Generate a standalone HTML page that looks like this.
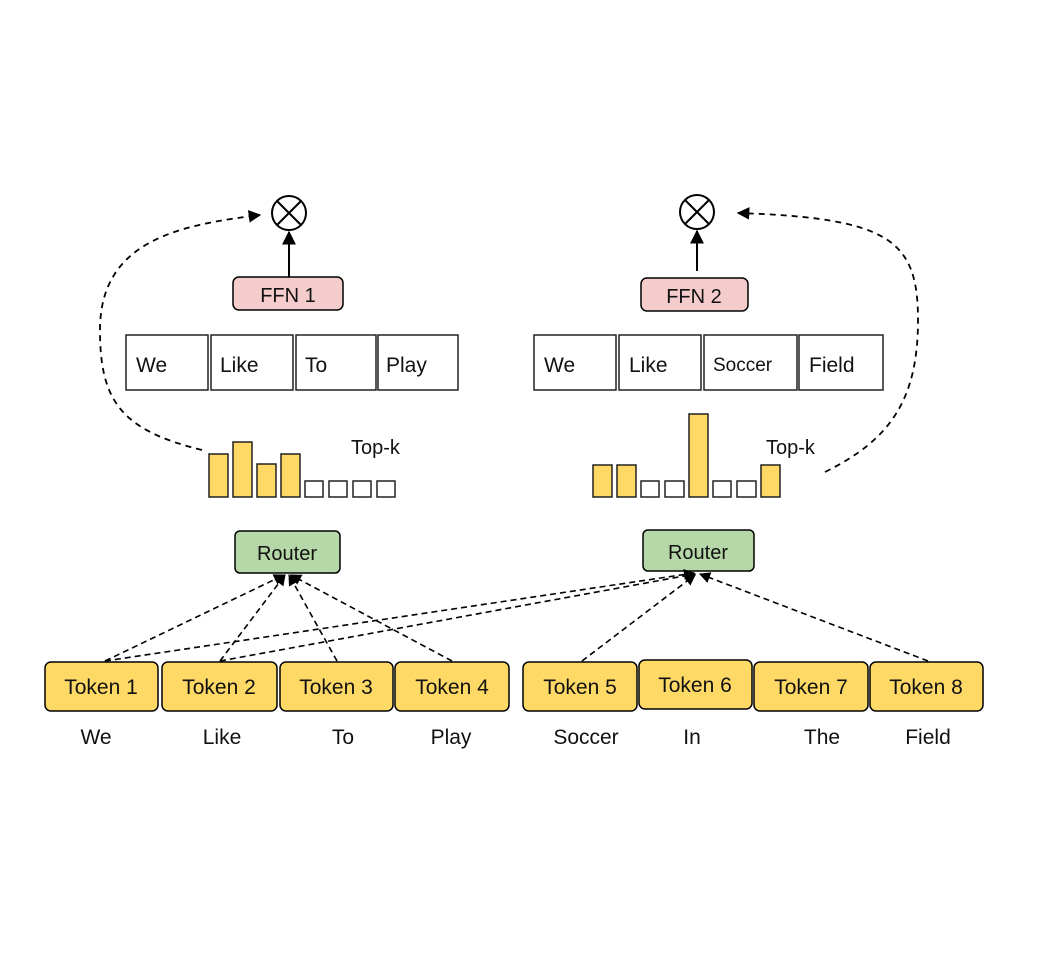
<!DOCTYPE html>
<html><head><meta charset="utf-8"><style>
html,body{margin:0;padding:0;background:#fff}
svg{display:block}
text{font-family:"Liberation Sans",Arial,sans-serif;fill:#111}
</style></head><body>
<svg width="1040" height="960" viewBox="0 0 1040 960" xmlns="http://www.w3.org/2000/svg">
<defs>
<marker id="a" viewBox="0 0 10 10" refX="9" refY="5" markerWidth="7" markerHeight="7" orient="auto-start-reverse"><path d="M0,0 L10,5 L0,10 z" fill="#000"/></marker>
</defs>
<rect width="1040" height="960" fill="#fff"/>

<!-- circles -->
<g stroke="#000" stroke-width="2" fill="#fff">
<circle cx="289" cy="213" r="17"/>
<line x1="277" y1="201" x2="301" y2="225"/><line x1="301" y1="201" x2="277" y2="225"/>
<circle cx="697" cy="212" r="17"/>
<line x1="685" y1="200" x2="709" y2="224"/><line x1="709" y1="200" x2="685" y2="224"/>
</g>
<line x1="289" y1="277" x2="289" y2="232" stroke="#000" stroke-width="2" marker-end="url(#a)"/>
<line x1="697" y1="271" x2="697" y2="231" stroke="#000" stroke-width="2" marker-end="url(#a)"/>

<!-- FFN -->
<rect x="233" y="277" width="110" height="33" rx="6" fill="#f4cccc" stroke="#000" stroke-width="1.5"/>
<text x="288" y="302" font-size="20" text-anchor="middle">FFN 1</text>
<rect x="641" y="278" width="107" height="33" rx="6" fill="#f4cccc" stroke="#000" stroke-width="1.5"/>
<text x="694" y="303" font-size="20" text-anchor="middle">FFN 2</text>

<!-- word boxes -->
<g fill="#fff" stroke="#222" stroke-width="1.5">
<rect x="126" y="335" width="82" height="55"/><rect x="211" y="335" width="82" height="55"/>
<rect x="296" y="335" width="80" height="55"/><rect x="378" y="335" width="80" height="55"/>
<rect x="534" y="335" width="82" height="55"/><rect x="619" y="335" width="82" height="55"/>
<rect x="704" y="335" width="93" height="55"/><rect x="799" y="335" width="84" height="55"/>
</g>
<g font-size="21">
<text x="136" y="372">We</text><text x="220" y="372">Like</text><text x="305" y="372">To</text><text x="386" y="372">Play</text>
<text x="544" y="372">We</text><text x="629" y="372">Like</text><text x="713" y="371" font-size="19">Soccer</text><text x="809" y="372">Field</text>
</g>

<!-- bars -->
<g stroke="#222" stroke-width="1.5">
<rect x="209" y="454" width="19" height="43" fill="#ffd966"/>
<rect x="233" y="442" width="19" height="55" fill="#ffd966"/>
<rect x="257" y="464" width="19" height="33" fill="#ffd966"/>
<rect x="281" y="454" width="19" height="43" fill="#ffd966"/>
<rect x="305" y="481" width="18" height="16" fill="#fff"/>
<rect x="329" y="481" width="18" height="16" fill="#fff"/>
<rect x="353" y="481" width="18" height="16" fill="#fff"/>
<rect x="377" y="481" width="18" height="16" fill="#fff"/>

<rect x="593" y="465" width="19" height="32" fill="#ffd966"/>
<rect x="617" y="465" width="19" height="32" fill="#ffd966"/>
<rect x="641" y="481" width="18" height="16" fill="#fff"/>
<rect x="665" y="481" width="19" height="16" fill="#fff"/>
<rect x="689" y="414" width="19" height="83" fill="#ffd966"/>
<rect x="713" y="481" width="18" height="16" fill="#fff"/>
<rect x="737" y="481" width="19" height="16" fill="#fff"/>
<rect x="761" y="465" width="19" height="32" fill="#ffd966"/>
</g>
<text x="351" y="454" font-size="20">Top-k</text>
<text x="766" y="454" font-size="20">Top-k</text>

<!-- curved dashed -->
<g fill="none" stroke="#000" stroke-width="1.8" stroke-dasharray="6,5">
<path d="M202,450 C120,430 100,400 100,330 C100,240 180,225 260,215" marker-end="url(#a)"/>
<path d="M825,472 C890,440 918,400 918,320 C918,240 890,218 738,213" marker-end="url(#a)"/>
</g>

<!-- routers -->
<rect x="235" y="531" width="105" height="42" rx="5" fill="#b6d7a8" stroke="#000" stroke-width="1.5"/>
<text x="287" y="560" font-size="20" text-anchor="middle">Router</text>
<rect x="643" y="530" width="111" height="41" rx="5" fill="#b6d7a8" stroke="#000" stroke-width="1.5"/>
<text x="698" y="559" font-size="20" text-anchor="middle">Router</text>

<!-- token arrows -->
<g fill="none" stroke="#000" stroke-width="1.6" stroke-dasharray="6,4">
<line x1="105" y1="661" x2="284" y2="575" marker-end="url(#a)"/>
<line x1="220" y1="661" x2="285" y2="575" marker-end="url(#a)"/>
<line x1="337" y1="661" x2="289" y2="575" marker-end="url(#a)"/>
<line x1="452" y1="661" x2="291" y2="575" marker-end="url(#a)"/>
<line x1="105" y1="661" x2="694" y2="573" marker-end="url(#a)"/>
<line x1="220" y1="661" x2="695" y2="574" marker-end="url(#a)"/>
<line x1="582" y1="661" x2="695" y2="575" marker-end="url(#a)"/>
<line x1="928" y1="661" x2="700" y2="574" marker-end="url(#a)"/>
</g>

<!-- tokens -->
<g fill="#ffd966" stroke="#000" stroke-width="1.5">
<rect x="45" y="662" width="113" height="49" rx="6"/><rect x="162" y="662" width="115" height="49" rx="6"/>
<rect x="280" y="662" width="113" height="49" rx="6"/><rect x="395" y="662" width="114" height="49" rx="6"/>
<rect x="523" y="662" width="114" height="49" rx="6"/><rect x="639" y="660" width="113" height="49" rx="6"/>
<rect x="754" y="662" width="114" height="49" rx="6"/><rect x="870" y="662" width="113" height="49" rx="6"/>
</g>
<g font-size="21" text-anchor="middle">
<text x="101" y="694">Token 1</text><text x="219" y="694">Token 2</text><text x="336" y="694">Token 3</text><text x="452" y="694">Token 4</text>
<text x="580" y="694">Token 5</text><text x="695" y="692">Token 6</text><text x="811" y="694">Token 7</text><text x="926" y="694">Token 8</text>
</g>
<g font-size="21" text-anchor="middle">
<text x="96" y="744">We</text><text x="222" y="744">Like</text><text x="343" y="744">To</text><text x="451" y="744">Play</text>
<text x="586" y="744">Soccer</text><text x="692" y="744">In</text><text x="822" y="744">The</text><text x="928" y="744">Field</text>
</g>
</svg>
</body></html>
